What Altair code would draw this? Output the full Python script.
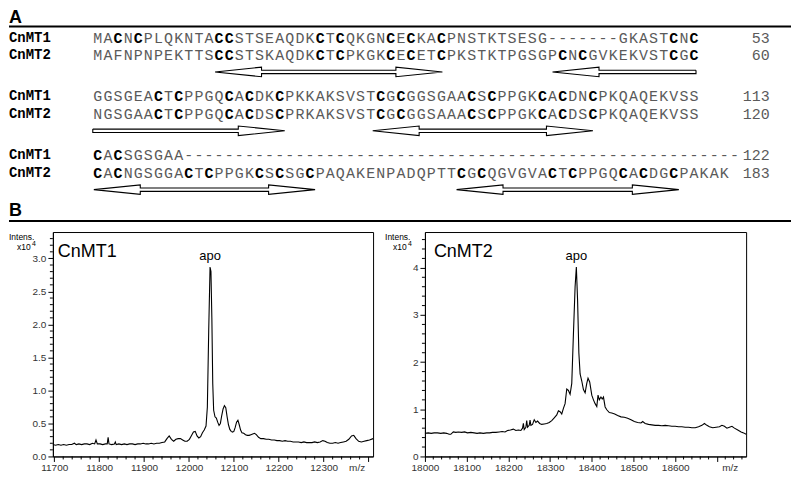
import altair as alt
import pandas as pd

# ---------------- data ----------------
names = ["CnMT1", "CnMT2"]
seq_block1 = ["MACNCPLQKNTACCSTSEAQDKCTCQKGNCECKACPNSTKTSESG-------GKASTCNC",
              "MAFNPNPEKTTSCCSTSKAQDKCTCPKGKCECETCPKSTKTPGSGPCNCGVKEKVSTCGC"]
seq_block2 = ["GGSGEACTCPPGQCACDKCPKKAKSVSTCGCGGSGAACSCPPGKCACDNCPKQAQEKVSS",
              "NGSGAACTCPPGQCACDSCPRKAKSVSTCGCGGSAAACSCPPGKCACDSCPKQAQEKVSS"]
seq_block3 = ["CACSGSGAA-------------------------------------------------------",
              "CACNGSGGACTCPPGKCSCSGCPAQAKENPADQPTTCGCQGVGVACTCPPGQCACDGCPAKAK"]
end_numbers = [[53, 60], [113, 120], [122, 183]]

# beta-strand arrows (alignment columns)
arrow_block = [0, 0, 1, 1, 2, 2]
arrow_from = [12.1, 45.5, 0.0, 27.7, 0.1, 36.0]
arrow_to = [34.6, 59.7, 19.0, 49.5, 22.0, 58.0]
arrow_heads = ["both", "left", "right", "both", "both", "both"]

spec1_mz = [11697, 11703, 11709, 11715, 11721, 11727, 11733, 11739, 11745, 11749,
            11755, 11761, 11767, 11773, 11779, 11785, 11790, 11793, 11796, 11802,
            11808, 11814, 11818, 11820, 11822, 11828, 11834, 11836, 11838, 11844,
            11850, 11856, 11862, 11868, 11874, 11880, 11886, 11892, 11898, 11904,
            11910, 11916, 11922, 11928, 11934, 11940, 11946, 11951, 11956, 11961,
            11966, 11971, 11976, 11981, 11986, 11991, 11996, 12001, 12006, 12010,
            12014, 12018, 12022, 12026, 12030, 12034, 12038, 12041, 12044, 12047,
            12049, 12051, 12053, 12055, 12058, 12061, 12064, 12067, 12070, 12073,
            12076, 12079, 12082, 12085, 12088, 12091, 12094, 12097, 12100, 12103,
            12106, 12109, 12112, 12115, 12118, 12122, 12126, 12130, 12134, 12138,
            12142, 12146, 12150, 12155, 12160, 12166, 12172, 12178, 12184, 12190,
            12196, 12202, 12208, 12214, 12220, 12226, 12232, 12238, 12244, 12250,
            12256, 12262, 12268, 12274, 12280, 12286, 12292, 12298, 12303, 12308,
            12314, 12320, 12326, 12332, 12338, 12344, 12350, 12356, 12362, 12367,
            12372, 12378, 12384, 12390, 12396, 12402, 12410]
spec1_int = [0.18, 0.17, 0.18, 0.17, 0.18, 0.17, 0.18, 0.18, 0.20, 0.18,
             0.19, 0.18, 0.19, 0.19, 0.18, 0.20, 0.19, 0.25, 0.19, 0.19,
             0.18, 0.19, 0.19, 0.29, 0.19, 0.18, 0.19, 0.22, 0.18, 0.19,
             0.18, 0.19, 0.18, 0.19, 0.19, 0.18, 0.19, 0.19, 0.20, 0.19,
             0.19, 0.20, 0.19, 0.20, 0.20, 0.21, 0.22, 0.27, 0.31, 0.26,
             0.23, 0.26, 0.27, 0.27, 0.25, 0.23, 0.23, 0.26, 0.32, 0.37,
             0.38, 0.31, 0.28, 0.30, 0.36, 0.40, 0.46, 0.75, 1.90, 2.87,
             2.80, 2.10, 1.10, 0.70, 0.60, 0.58, 0.52, 0.47, 0.50, 0.62,
             0.72, 0.77, 0.74, 0.60, 0.48, 0.41, 0.38, 0.37, 0.38, 0.44,
             0.52, 0.55, 0.48, 0.40, 0.36, 0.35, 0.33, 0.32, 0.32, 0.33,
             0.34, 0.35, 0.33, 0.29, 0.27, 0.27, 0.26, 0.26, 0.25, 0.25,
             0.24, 0.24, 0.23, 0.24, 0.23, 0.23, 0.22, 0.22, 0.22, 0.21,
             0.22, 0.21, 0.21, 0.21, 0.22, 0.21, 0.22, 0.24, 0.23, 0.21,
             0.20, 0.20, 0.21, 0.20, 0.21, 0.22, 0.23, 0.26, 0.31, 0.32,
             0.27, 0.23, 0.22, 0.23, 0.24, 0.25, 0.27]

spec2_mz = [18000, 18008, 18015, 18022, 18030, 18038, 18045, 18052, 18058, 18062,
            18068, 18074, 18080, 18088, 18095, 18102, 18110, 18118, 18125, 18132,
            18140, 18148, 18155, 18162, 18170, 18178, 18185, 18192, 18198, 18205,
            18212, 18218, 18224, 18230, 18234, 18236, 18238, 18242, 18244, 18246,
            18250, 18252, 18254, 18258, 18262, 18266, 18270, 18275, 18280, 18286,
            18292, 18298, 18304, 18310, 18316, 18320, 18324, 18328, 18332, 18336,
            18340, 18344, 18348, 18352, 18356, 18360, 18363, 18366, 18369, 18372,
            18376, 18380, 18384, 18388, 18391, 18395, 18400, 18404, 18408, 18412,
            18415, 18418, 18422, 18425, 18428, 18432, 18436, 18442, 18448, 18455,
            18462, 18470, 18478, 18486, 18494, 18502, 18510, 18518, 18522, 18528,
            18536, 18544, 18552, 18560, 18568, 18576, 18584, 18592, 18600, 18608,
            18616, 18624, 18632, 18640, 18648, 18656, 18664, 18670, 18676, 18682,
            18690, 18698, 18706, 18712, 18718, 18724, 18730, 18736, 18742, 18750,
            18758, 18764, 18770]
spec2_int = [0.49, 0.50, 0.49, 0.50, 0.50, 0.49, 0.50, 0.49, 0.47, 0.47,
             0.52, 0.51, 0.52, 0.51, 0.52, 0.50, 0.51, 0.50, 0.49, 0.50,
             0.49, 0.50, 0.50, 0.51, 0.51, 0.52, 0.53, 0.52, 0.55, 0.56,
             0.58, 0.55, 0.56, 0.55, 0.60, 0.70, 0.57, 0.62, 0.76, 0.62,
             0.66, 0.77, 0.66, 0.68, 0.78, 0.72, 0.75, 0.70, 0.68, 0.69,
             0.70, 0.72, 0.76, 0.82, 0.88, 0.97, 0.95, 0.90, 1.02, 1.12,
             1.43, 1.40, 1.32, 1.55, 2.60, 3.60, 4.02, 3.30, 2.20, 1.75,
             1.60, 1.42, 1.35, 1.55, 1.66, 1.58, 1.30, 1.20, 1.12, 1.06,
             1.30, 1.20, 1.26, 1.22, 1.26, 1.05, 0.99, 0.93, 0.92, 0.90,
             0.87, 0.84, 0.83, 0.81, 0.78, 0.74, 0.72, 0.71, 0.74, 0.70,
             0.68, 0.67, 0.66, 0.66, 0.65, 0.66, 0.65, 0.64, 0.64, 0.63,
             0.63, 0.62, 0.62, 0.61, 0.61, 0.63, 0.66, 0.70, 0.66, 0.63,
             0.61, 0.62, 0.63, 0.66, 0.64, 0.60, 0.62, 0.64, 0.60, 0.56,
             0.52, 0.50, 0.47]

# ---------------- layout / style ----------------
CW = 10.13            # px per alignment column
LEFT = -44            # left edge of panel A content (aligns with spectra labels)
X0 = 40.0             # px of column 0 inside panel A
WA, HA = 740, 214
ROW0, BSTEP, LSTEP, AOFF = 29, 59, 18, 34.5
HEAD_LEN, HEAD_H, SHAFT_H = 4.6, 4.8, 1.7
SPEC_H = 225
MONO = "Liberation Mono"
SANS = "Liberation Sans"
SEQ_GREY = "#5a5a5a"

blocks = [seq_block1, seq_block2, seq_block3]
rows = []
for b, blk in enumerate(blocks):
    for l, s in enumerate(blk):
        for i, ch in enumerate(s):
            rows.append({"col": i + 0.5, "py": ROW0 + b * BSTEP + l * LSTEP, "ch": ch})
char_df = pd.DataFrame(rows)

name_df = pd.DataFrame([{"py": ROW0 + b * BSTEP + l * LSTEP, "name": names[l]}
                        for b in range(3) for l in range(2)])
ncols = max(len(s) for blk in blocks for s in blk)
num_df = pd.DataFrame([{"py": ROW0 + b * BSTEP + l * LSTEP, "num": str(end_numbers[b][l]),
                        "col": ncols + 3} for b in range(3) for l in range(2)])

arows = []
for k, (bb, a, e, kind) in enumerate(zip(arrow_block, arrow_from, arrow_to, arrow_heads)):
    L, H, S = HEAD_LEN, HEAD_H, SHAFT_H
    if kind == "right":
        pts = [(a, -S), (e - L, -S), (e - L, -H), (e, 0), (e - L, H), (e - L, S), (a, S), (a, -S)]
    elif kind == "left":
        pts = [(e, -S), (a + L, -S), (a + L, -H), (a, 0), (a + L, H), (a + L, S), (e, S), (e, -S)]
    else:
        pts = [(a, 0), (a + L, -H), (a + L, -S), (e - L, -S), (e - L, -H), (e, 0),
               (e - L, H), (e - L, S), (a + L, S), (a + L, H), (a, 0)]
    yc = ROW0 + bb * BSTEP + AOFF
    for j, (px, dy) in enumerate(pts):
        arows.append({"aid": k, "ord": j, "ax": px, "ay": yc + dy})
arrow_df = pd.DataFrame(arows)

xsc = alt.Scale(domain=[-X0 / CW, (WA - X0) / CW], nice=False, zero=False)
ysc = alt.Scale(domain=[0, HA], reverse=True, nice=False, zero=False)


def txt(text, x, y, **kw):
    return alt.Chart(pd.DataFrame({"t": [text]})).mark_text(**kw).encode(
        x=alt.value(x), y=alt.value(y), text="t:N")


plain = alt.Chart(char_df).transform_filter("datum.ch != 'C'").mark_text(
    font=MONO, fontSize=15, color=SEQ_GREY, baseline="middle").encode(
    x=alt.X("col:Q", scale=xsc, axis=None), y=alt.Y("py:Q", scale=ysc, axis=None), text="ch:N")
cys = alt.Chart(char_df).transform_filter("datum.ch == 'C'").mark_text(
    font=MONO, fontSize=15, fontWeight="bold", color="#000000", baseline="middle").encode(
    x=alt.X("col:Q", scale=xsc, axis=None), y=alt.Y("py:Q", scale=ysc, axis=None), text="ch:N")
name_l = alt.Chart(name_df).mark_text(font=MONO, fontSize=14, fontWeight="bold", align="left",
                                      baseline="middle", color="black").encode(
    x=alt.value(LEFT), y=alt.Y("py:Q", scale=ysc, axis=None), text="name:N")
num_l = alt.Chart(num_df).mark_text(font=MONO, fontSize=15, align="right", baseline="middle",
                                    color=SEQ_GREY).encode(
    x=alt.X("col:Q", scale=xsc, axis=None), y=alt.Y("py:Q", scale=ysc, axis=None), text="num:N")
arrows = alt.Chart(arrow_df).mark_line(color="black", strokeWidth=1.1).encode(
    x=alt.X("ax:Q", scale=xsc, axis=None), y=alt.Y("ay:Q", scale=ysc, axis=None),
    detail="aid:N", order="ord:Q")
rule_df = pd.DataFrame({"r": [0]})
ruleA = alt.Chart(rule_df).mark_rule(color="black", strokeWidth=2).encode(
    x=alt.value(LEFT), x2=alt.value(WA), y=alt.value(18))
ruleB = alt.Chart(rule_df).mark_rule(color="black", strokeWidth=2).encode(
    x=alt.value(LEFT), x2=alt.value(WA), y=alt.value(213))
labA = txt("A", LEFT, 14.5, font=SANS, fontSize=18, fontWeight="bold", align="left",
           baseline="alphabetic")
labB = txt("B", LEFT, 208, font=SANS, fontSize=18, fontWeight="bold", align="left",
           baseline="alphabetic")

panelA = alt.layer(ruleA, ruleB, labA, labB, arrows, plain, cys, name_l, num_l).properties(
    width=WA, height=HA)


def spectrum(mz, inten, title, xdom, ydom, ymajor, yminor, yfmt, xmajor, xminor, xlab_max, w,
             intens_x, name_x, mz_x):
    df = pd.DataFrame({"mz": mz, "val": inten})
    peak = df.loc[[df["val"].idxmax()]].assign(t="apo")
    xs = alt.Scale(domain=xdom, nice=False, zero=False)
    ys = alt.Scale(domain=ydom, nice=False, zero=False)
    xaxis = alt.Axis(values=xmajor, tickCount=100, title=None, grid=False, domainColor="black",
                     tickColor="black", tickSize=5,
                     labelExpr=f"datum.value <= {xlab_max} ? datum.label : ''",
                     format="d", labelFontSize=10, labelColor="#333333", labelPadding=1,
                     labelFlush=False, labelOverlap=False, labelFont=SANS)
    yaxis = alt.Axis(values=ymajor, tickCount=100, title=None, grid=False, domainColor="black",
                     tickColor="black", tickSize=5, format=yfmt, labelFontSize=10,
                     labelColor="#333333", labelPadding=2, labelFlush=False, labelOverlap=False,
                     labelFont=SANS)
    line = alt.Chart(df).mark_line(color="black", strokeWidth=1.1).encode(
        x=alt.X("mz:Q", scale=xs, axis=xaxis), y=alt.Y("val:Q", scale=ys, axis=yaxis))
    xmin = alt.Chart(pd.DataFrame({"mz": xminor})).mark_rule(color="black", strokeWidth=1).encode(
        x=alt.X("mz:Q", scale=xs, axis=xaxis), y=alt.value(SPEC_H), y2=alt.value(SPEC_H + 3))
    ymin = alt.Chart(pd.DataFrame({"val": yminor})).mark_rule(color="black", strokeWidth=1).encode(
        y=alt.Y("val:Q", scale=ys, axis=yaxis), x=alt.value(-3), x2=alt.value(0))
    apo = alt.Chart(peak).mark_text(font=SANS, fontSize=13, baseline="alphabetic", dy=-7).encode(
        x="mz:Q", y="val:Q", text="t:N")
    name = txt(title, name_x, 20, font=SANS, fontSize=18, align="left", baseline="middle")
    it = txt("Intens.", intens_x, 4.5, font=SANS, fontSize=8.5, align="left", baseline="middle")
    x10 = txt("x10", intens_x + 8, 15.5, font=SANS, fontSize=8.5, align="left", baseline="middle")
    sup = txt("4", intens_x + 23, 12, font=SANS, fontSize=7, align="left", baseline="middle")
    mzl = txt("m/z", mz_x, SPEC_H + 12, font=SANS, fontSize=10, align="center",
              baseline="middle", color="#333333")
    return alt.layer(line, xmin, ymin, apo, name, it, x10, sup, mzl).properties(
        width=w, height=SPEC_H, view=alt.ViewBackground(stroke="black", strokeWidth=1))


s1_ymaj = [0.0, 0.5, 1.0, 1.5, 2.0, 2.5, 3.0]
s1_ymin = [round(i * 0.1, 1) for i in range(34) if i % 5 != 0]
s2_ymaj = [0, 1, 2, 3, 4]
s2_ymin = [round(i * 0.2, 1) for i in range(24) if i % 5 != 0]

spec1 = spectrum(spec1_mz, spec1_int, "CnMT1", [11697, 12410], [0, 3.4],
                 s1_ymaj, s1_ymin, ".1f",
                 list(range(11700, 12401, 100)),
                 [v for v in range(11700, 12410, 20) if v % 100 != 0],
                 12300, 321, -44, 5, 305)
spec2 = spectrum(spec2_mz, spec2_int, "CnMT2", [18000, 18770], [0, 4.76],
                 s2_ymaj, s2_ymin, "d",
                 list(range(18000, 18701, 100)),
                 [v for v in range(18000, 18770, 20) if v % 100 != 0],
                 18600, 322, -40, 9, 306)

chart = alt.vconcat(panelA, alt.hconcat(spec1, spec2, spacing=8), spacing=9).properties(
    padding=0).configure(font=SANS).configure_view(stroke=None)

chart.save("out.html", embed_options={"renderer": "svg", "actions": False})
